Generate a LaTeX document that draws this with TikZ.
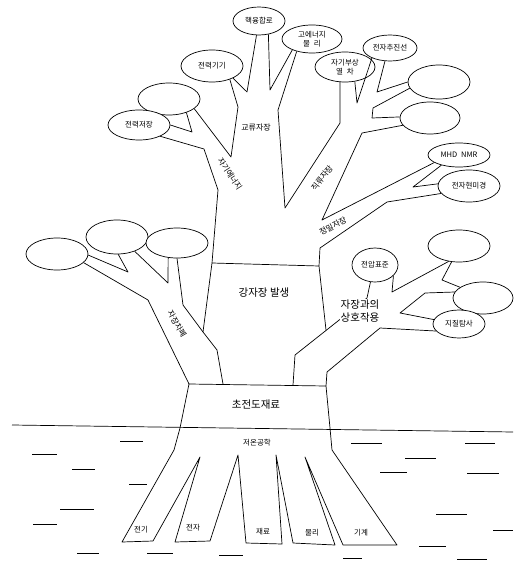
\documentclass[tikz,border=0pt]{standalone}
\usepackage{fontspec}
\setmainfont{Noto Sans CJK KR}
\usetikzlibrary{shapes.geometric}
\begin{document}
\begin{tikzpicture}[x=1pt,y=-1pt,line width=0.7pt,line join=round,
    leaf/.style={draw,ellipse,fill=white,inner sep=0pt,align=center,font=\fontsize{7.5}{8.5}\selectfont},
    lab/.style={inner sep=1pt,font=\fontsize{8}{9}\selectfont},
    big/.style={inner sep=1pt,align=center,font=\fontsize{10.5}{13}\selectfont}]
\useasboundingbox (0,0) rectangle (524,569);
\fill[white] (0,0) rectangle (524,569);
\node[leaf,minimum width=52,minimum height=28] (hy) at (259,21) {핵융합로};
\node[leaf,minimum width=60,minimum height=28] (gm) at (312,39) {고에너지\\물\enspace 리};
\node[leaf,minimum width=60,minimum height=30] (jb) at (345,67) {자기부상\\열\enspace 차};
\node[leaf,minimum width=54,minimum height=26] (jc) at (390,48) {전자추진선};
\node[leaf,minimum width=62,minimum height=34] (ea) at (439,82) {};
\node[leaf,minimum width=60,minimum height=32] (eb) at (430,118) {};
\node[leaf,minimum width=62,minimum height=24] (mh) at (459,155) {MHD\enspace NMR};
\node[leaf,minimum width=62,minimum height=32] (jh) at (469,186) {전자현미경};
\node[leaf,minimum width=62,minimum height=32] (jg) at (212,66) {전력기기};
\node[leaf,minimum width=62,minimum height=32] (ec) at (169,99) {};
\node[leaf,minimum width=62,minimum height=30] (jj) at (139,125) {전력저장};
\node[leaf,minimum width=62,minimum height=32] (ed) at (57,254) {};
\node[leaf,minimum width=62,minimum height=34] (ee) at (117,237) {};
\node[leaf,minimum width=62,minimum height=30] (ef) at (177,243) {};
\node[leaf,minimum width=46,minimum height=34] (jp) at (375,265) {전압표준};
\node[leaf,minimum width=62,minimum height=32] (eg) at (459,246) {};
\node[leaf,minimum width=60,minimum height=32] (eh) at (483,298) {};
\node[leaf,minimum width=52,minimum height=28] (jt) at (459,324) {지질탐사};
\draw (jj.-28) -- (204,149) -- (218,190) -- (212,263) -- (203,332) -- (217,350) -- (223,384);
\draw (ef.-90) -- (183,305) -- (203,332);
\draw (jj.0) -- (192,132) -- (ec.-38);
\draw (ec.-21) -- (231,157) -- (238,107) -- (jg.-37);
\draw (jg.-30) -- (247,92) -- (hy.-100);
\draw (hy.-55) -- (270,90) -- (gm.-151);
\draw (gm.-141) -- (278,110) -- (285,208) -- (340,123) -- (jb.-108);
\draw (jb.-56) -- (357,103) -- (jc.-151);
\draw (jc.-111) -- (377,92) -- (ea.180);
\draw (ea.-168) -- (373,108) -- (372,118) -- (eb.178);
\draw (eb.-165) -- (362,133) -- (322,220) -- (mh.-163);
\draw (mh.-150) -- (413,187) -- (jh.176);
\draw (jh.-165) -- (387,202) -- (320,248) -- (319,266) -- (326,330);
\draw (212,263) -- (319,266);
\draw (ed.-2) -- (128,272) -- (ee.-86);
\draw (ee.-39) -- (168,283) -- (ef.-121);
\draw (ed.-18) -- (148,300) -- (189,384) -- (180,428) -- (174,450) -- (122,542)
    -- (153,541) -- (200,457) -- (175,542) -- (210,541) -- (238,455) -- (246,543)
    -- (282,544) -- (276,455) -- (293,543) -- (335,545) -- (305,457) -- (343,545)
    -- (397,545) -- (332,450) -- (330,428) -- (326,386) -- (327,372) -- (380,328) -- (jt.-163);
\draw (189,384) -- (326,386);
\draw (293,385) -- (295,355) -- (367,298) -- (jp.-105);
\draw (jp.-30) -- (392,292) -- (eg.-124);
\draw (eg.-115) -- (442,280) -- (eh.155);
\draw (eh.168) -- (425,293) -- (400,313) -- (jt.170);
\draw (12,425) -- (513,432);
\foreach \a/\b/\y in {120/143/441,32/57/454,72/95/469,129/147/484,60/94/509,33/57/524,
    77/99/553,147/173/553,219/243/555,351/382/443,465/495/443,405/436/458,380/407/472,
    467/499/473,436/467/514,493/513/530,419/446/546,343/362/558,457/487/559}
  \draw[line width=0.5pt] (\a,\y) -- (\b,\y);
\node[big] (cj) at (256,405) {초전도재료};
\node[lab,font=\fontsize{7.5}{8.5}\selectfont] (jo) at (257,443) {저온공학};
\node[big] (gj) at (264,293) {강자장 발생};
\node[big,fill=white] (sh) at (360,311) {자장과의\\상호작용};
\node[lab] (gr) at (256,128) {교류자장};
\node[lab,rotate=-57] (je) at (230,174) {자기에너지};
\node[lab,rotate=52] (jl) at (322,178) {직류자장};
\node[lab,rotate=28] (jm) at (333,226) {정밀자장};
\node[lab,rotate=-60] (jd) at (177,324) {자장차폐};
\node[lab,font=\fontsize{7.5}{8.5}\selectfont] (r1) at (141,530) {전기};
\node[lab,font=\fontsize{7.5}{8.5}\selectfont] (r2) at (193,528) {전자};
\node[lab,font=\fontsize{7.5}{8.5}\selectfont] (r3) at (263,532) {재료};
\node[lab,font=\fontsize{7.5}{8.5}\selectfont] (r4) at (312,533) {물리};
\node[lab,font=\fontsize{7.5}{8.5}\selectfont] (r5) at (361,533) {기계};
\end{tikzpicture}
\end{document}
